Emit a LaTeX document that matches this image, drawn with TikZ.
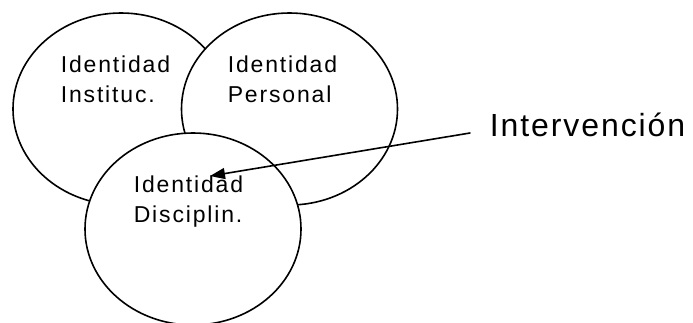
\documentclass[tikz,border=0pt]{standalone}
\usepackage{fontspec}
\newfontfamily\rotulofont[LetterSpace=8]{Liberation Sans}
\newfontfamily\intervfont[LetterSpace=6]{Liberation Sans}
\usetikzlibrary{shapes.geometric,arrows.meta}
\tikzset{
	circulo/.style={ellipse, draw, fill=white, inner sep=0pt, minimum width=216pt, minimum height=192pt},
	rotulo/.style={anchor=base west, inner sep=0pt, align=left, font={\rotulofont\fontsize{23}{29.5}\selectfont}}
}
\begin{document}
\begin{tikzpicture}[x=1pt,y=-1pt,>={Triangle[length=15pt,width=11pt]}, line join=round, line cap=round, line width=1.6pt]
	\useasboundingbox (0,0) rectangle (693,322);
	% los tres circulos, el ultimo encima
	\foreach \n/\p in {inst/{(121,109)},pers/{(289.5,109)},disc/{(193,229)}}
	{
		\node[circulo] (\n) at \p {};
	}
	\node[rotulo] (tinst) at (60,102) {Identidad\\Instituc.};
	\node[rotulo] (tpers) at (227,102) {Identidad\\Personal};
	\node[rotulo] (tdisc) at (133,222) {Identidad\\Disciplin.};
	\node[anchor=base west, inner sep=0pt, font={\intervfont\fontsize{32}{36}\selectfont}] (interv) at (489,136) {Intervención};
	\coordinate (cola) at (470,133);
	\coordinate (punta) at (210,176);
	\draw[->] (cola)--(punta);
\end{tikzpicture}
\end{document}
